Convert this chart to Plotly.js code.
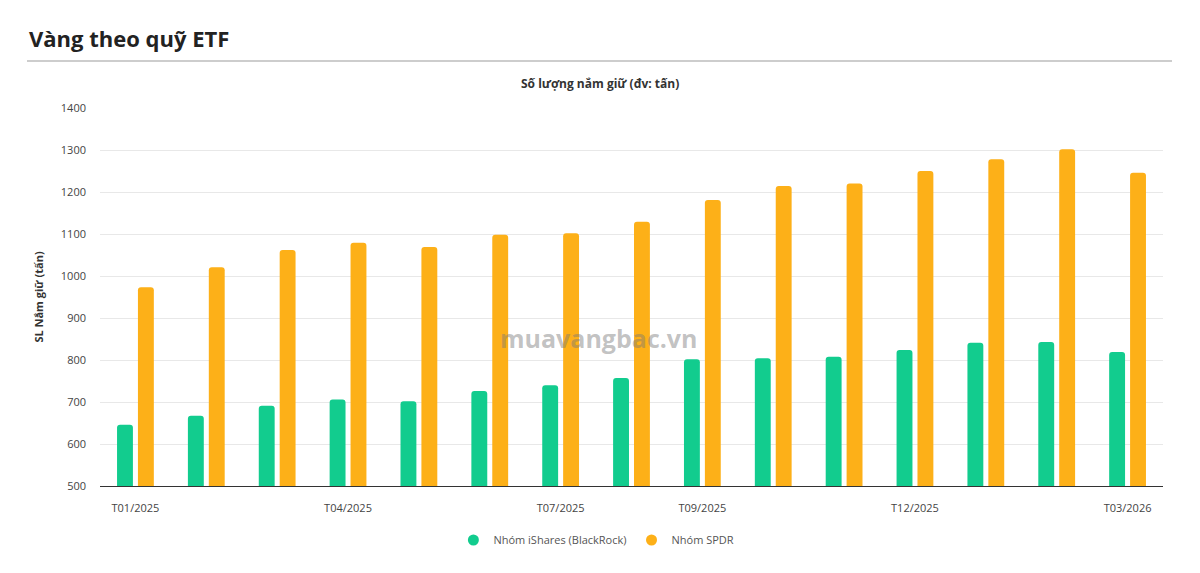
<!DOCTYPE html>
<html>
<head>
<meta charset="utf-8">
<script src="https://cdn.plot.ly/plotly-3.0.1.min.js"></script>
<style>
html,body{margin:0;padding:0;background:#fff;}
#chart{width:1200px;height:573px;}
</style>
</head>
<body>
<div id="chart"></div>
<script>
const months = ['T01/2025','T02/2025','T03/2025','T04/2025','T05/2025','T06/2025','T07/2025','T08/2025','T09/2025','T10/2025','T11/2025','T12/2025','T01/2026','T02/2026','T03/2026'];
const ishares = [646, 667, 691, 706, 702, 726, 740, 757, 802, 804, 808, 824, 841, 843, 819];
const spdr = [973, 1021, 1062, 1079, 1069, 1098, 1102, 1129, 1181, 1214, 1220, 1250, 1278, 1302, 1246];
const shownTicks = ['T01/2025','T04/2025','T07/2025','T09/2025','T12/2025','T03/2026'];
const seriesNames = ['Nhóm iShares (BlackRock)', 'Nhóm SPDR'];
const colors = ['#12CC8E', '#FDB018'];

const FONT = '"Open Sans", "Noto Sans", sans-serif';

const traces = [
  {type:'bar', x:months, y:ishares, name:seriesNames[0], marker:{color:colors[0]}, showlegend:false, hoverinfo:'x+y'},
  {type:'bar', x:months, y:spdr, name:seriesNames[1], marker:{color:colors[1]}, showlegend:false, hoverinfo:'x+y'},
  {type:'scatter', mode:'markers', x:[null], y:[null], name:seriesNames[0], marker:{color:colors[0], size:11, symbol:'circle'}},
  {type:'scatter', mode:'markers', x:[null], y:[null], name:seriesNames[1], marker:{color:colors[1], size:11, symbol:'circle'}}
];

const layout = {
  width:1200, height:573,
  paper_bgcolor:'#fff', plot_bgcolor:'#fff',
  margin:{l:100, r:37, t:108, b:87},
  font:{family:FONT, color:'#444', size:11},
  barmode:'group', bargap:0.41, bargroupgap:0.24, barcornerradius:3,
  xaxis:{
    type:'category', categoryorder:'array', categoryarray:months,
    tickmode:'array', tickvals:shownTicks, ticktext:shownTicks,
    showgrid:false, showline:true, linecolor:'#333', linewidth:1,
    ticks:'', ticklabelstandoff:12, tickfont:{size:11, color:'#444'},
    fixedrange:true
  },
  yaxis:{
    range:[500,1400], dtick:100, tick0:500,
    showgrid:true, gridcolor:'#e8e8e8', gridwidth:1, zeroline:false, showline:false,
    ticks:'', ticklabelstandoff:13, tickfont:{size:11, color:'#444'},
    title:{text:'SL Nắm giữ (tấn)', font:{size:11, color:'#333', family:FONT, weight:'bold'}, standoff:14},
    fixedrange:true
  },
  legend:{
    orientation:'h', xref:'container', yref:'container', x:0.497, xanchor:'center', y:1-540/573, yanchor:'middle',
    font:{size:11, color:'#555'}, itemwidth:30, tracegroupgap:0
  },
  shapes:[
    {type:'line', xref:'paper', yref:'paper', x0:-73/1063, x1:1072/1063, y0:1+(108-61)/378, y1:1+(108-61)/378, line:{color:'#bdbdbd', width:1.5}}
  ],
  annotations:[
    {xref:'paper', yref:'paper', x:-73/1063, y:1+(108-38)/378, xanchor:'left', yanchor:'middle', showarrow:false,
     text:'<b>Vàng theo quỹ ETF</b>', font:{family:FONT, size:22, color:'#222'}},
    {xref:'paper', yref:'paper', x:(600-100)/1063, y:1+(108-83)/378, xanchor:'center', yanchor:'middle', showarrow:false,
     text:'<b>Số lượng nắm giữ (đv: tấn)</b>', font:{family:FONT, size:12, color:'#333'}},
    {xref:'paper', yref:'paper', x:(599-100)/1063, y:(486-338)/378, xanchor:'center', yanchor:'middle', showarrow:false,
     text:'<b>muavangbac.vn</b>', font:{family:FONT, size:25, color:'rgba(120,120,120,0.45)'}}
  ]
};

Plotly.newPlot('chart', traces, layout, {displayModeBar:false, staticPlot:true});
</script>
</body>
</html>
